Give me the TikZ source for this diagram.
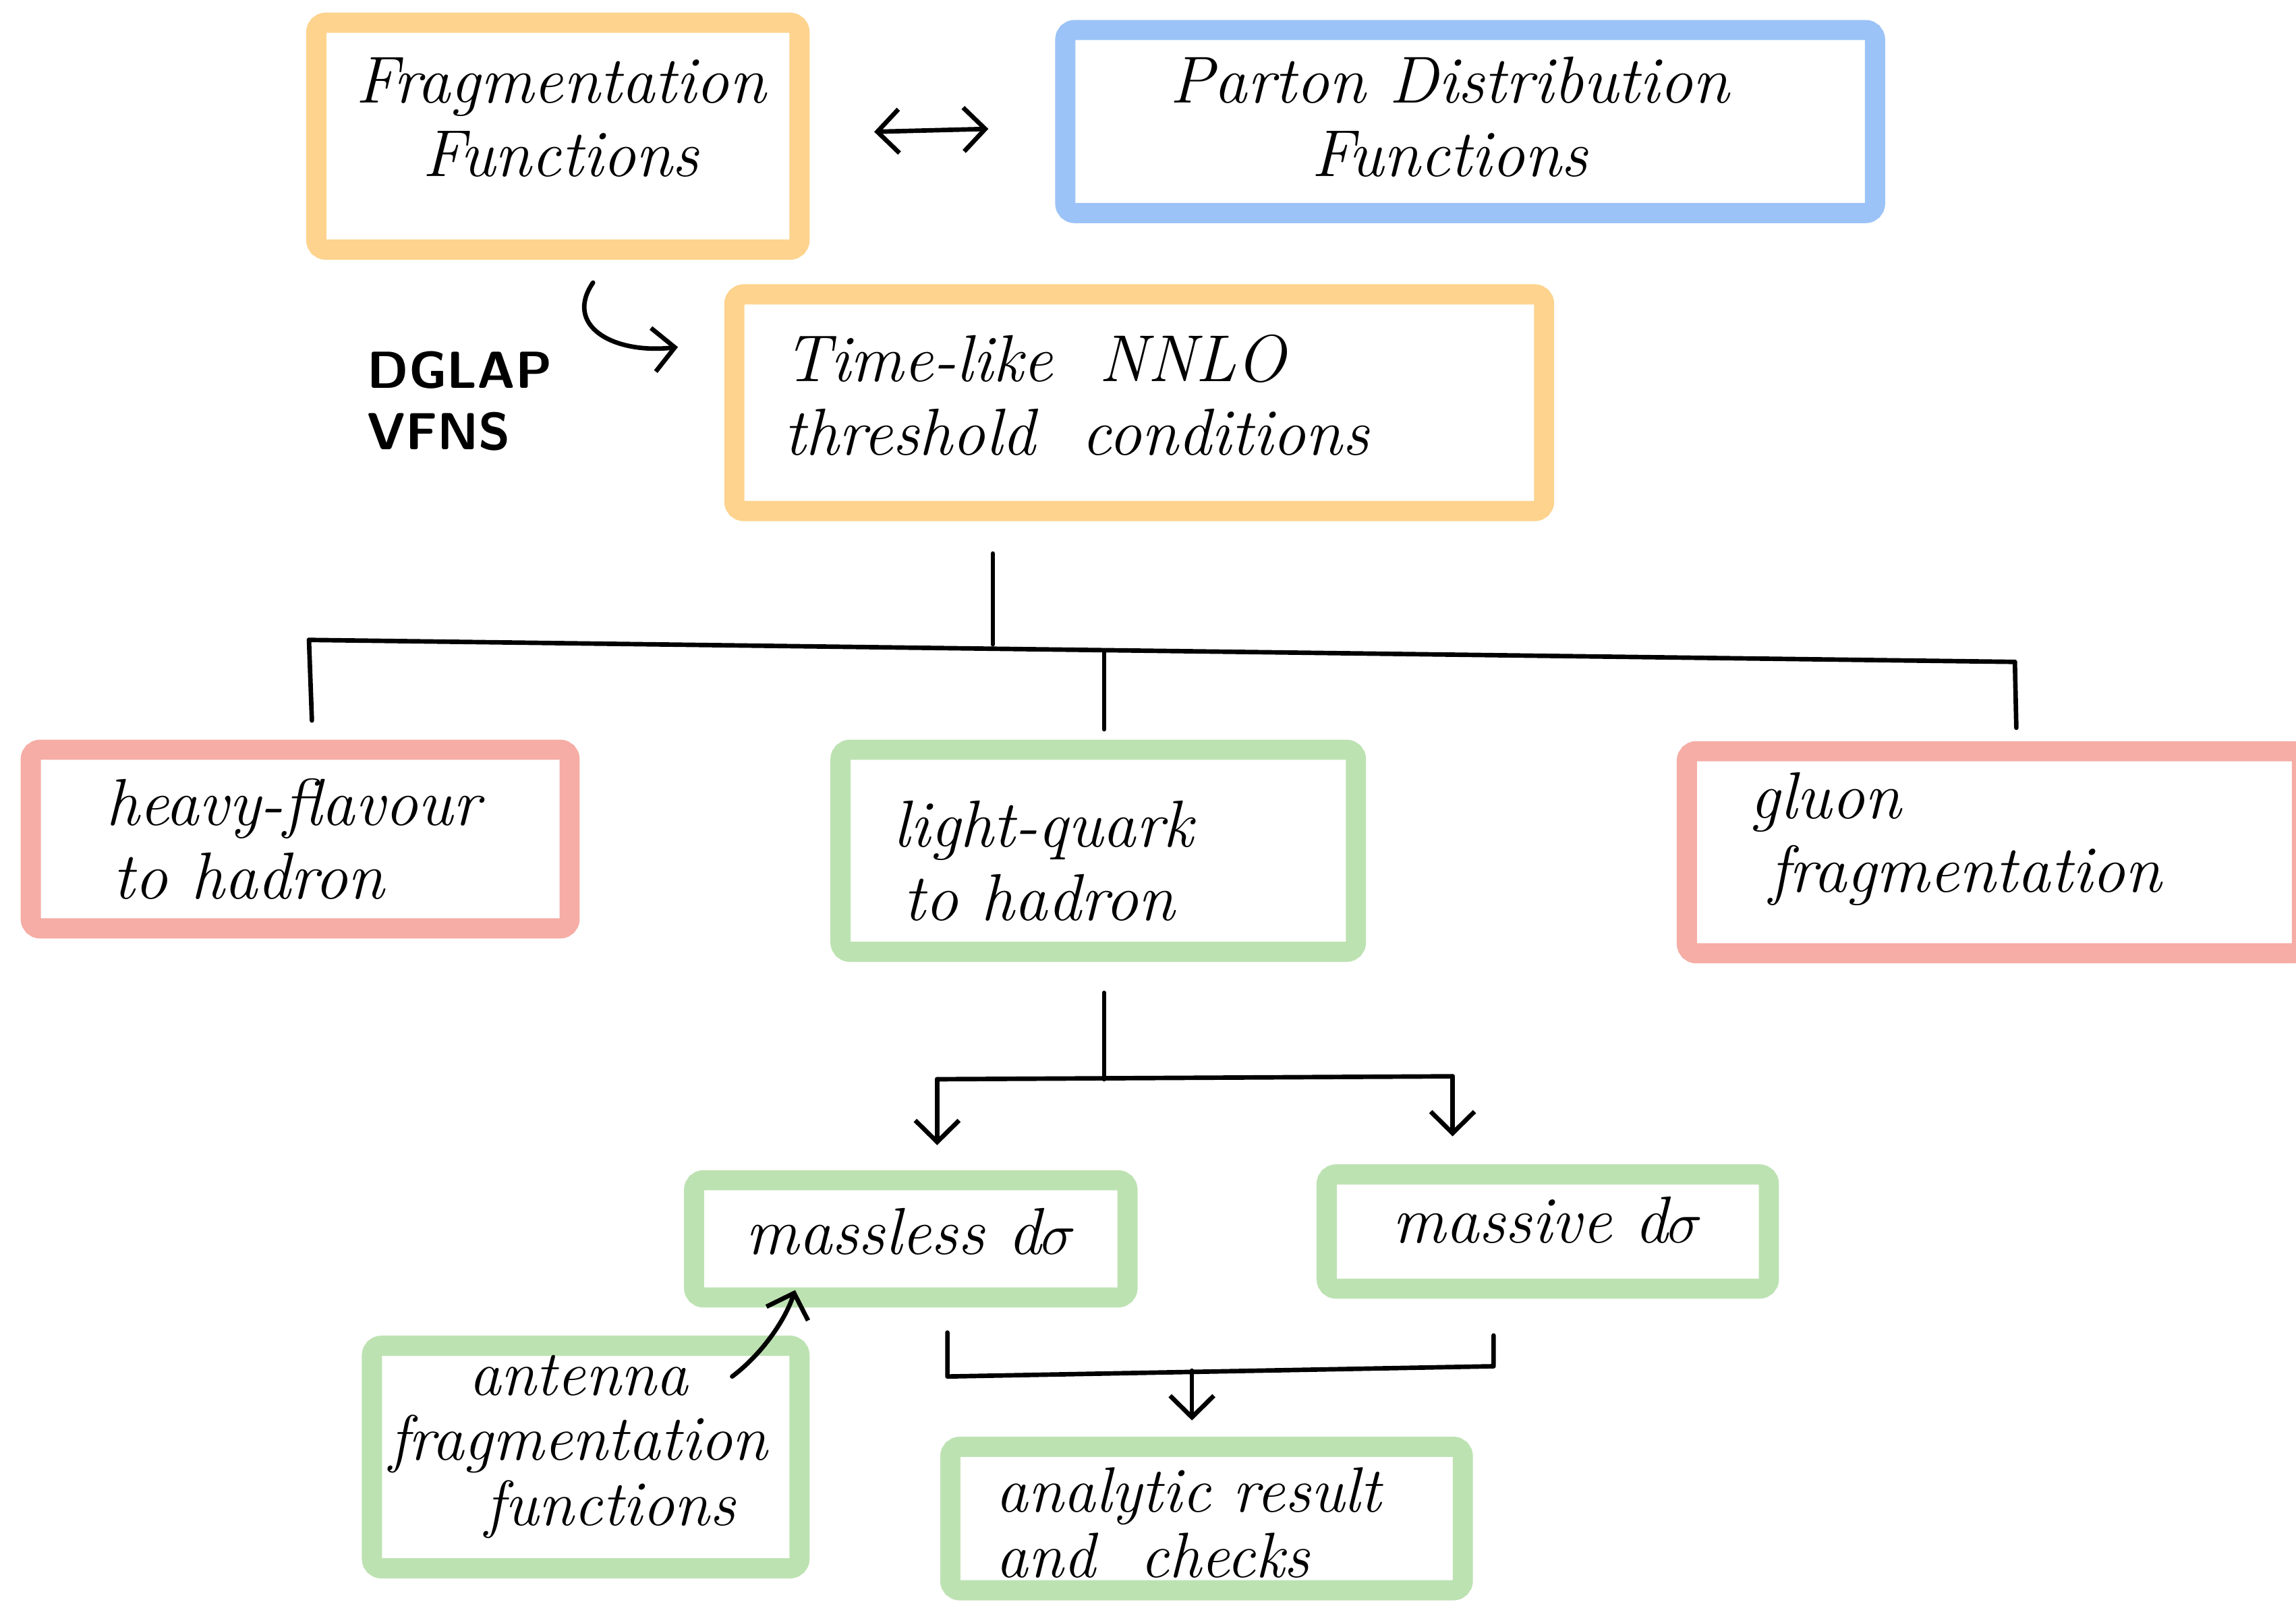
\documentclass[tikz,border=0pt]{standalone}
\usetikzlibrary{arrows.meta,calc}
\definecolor{cOr}{HTML}{FDD38D}
\definecolor{cBl}{HTML}{9BC3F7}
\definecolor{cRd}{HTML}{F5ADA5}
\definecolor{cGr}{HTML}{BDE2B2}
\newcommand\pu{0.021709cm}
\newcommand\handfont{\fontsize{28}{31}\selectfont\itshape}
\begin{document}
\begin{tikzpicture}[x=0.021709cm, y=-0.021709cm,
  box/.style={draw=#1, line width=8.5pt, rounded corners=4pt, inner sep=0pt},
  txt/.style={inner sep=0pt, font=\handfont},
  link/.style={line width=1.9pt, line cap=round, line join=round},
  barb/.tip={Straight Barb[length=3.2mm,width=6.5mm,line width=1.9pt]},
  arr/.style={link, -{barb}}]
\useasboundingbox[fill=white] (0,0) rectangle (1568,1094);

% boxes
\node[box=cOr, minimum width=330*\pu, minimum height=155*\pu] (ff) at (381,93) {};
\node[box=cBl, minimum width=553*\pu, minimum height=125*\pu] (pdf) at (1004,83) {};
\node[box=cOr, minimum width=553*\pu, minimum height=148*\pu] (tln) at (778,275) {};
\node[box=cRd, minimum width=368*\pu, minimum height=122*\pu] (hf) at (205,573) {};
\node[box=cGr, minimum width=352*\pu, minimum height=138*\pu] (lq) at (750,581) {};
\node[box=cRd, minimum width=420*\pu, minimum height=138*\pu] (gf) at (1362,582) {};
\node[box=cGr, minimum width=296*\pu, minimum height=80*\pu] (ml) at (622,846) {};
\node[box=cGr, minimum width=302*\pu, minimum height=78*\pu] (mv) at (1057,841) {};
\node[box=cGr, minimum width=292*\pu, minimum height=152*\pu] (an) at (400,995) {};
\node[box=cGr, minimum width=350*\pu, minimum height=98*\pu] (ar) at (824,1037) {};

% texts
\node[txt, align=center] (ffT) at (383,80) {Fragmentation\\Functions};
\node[txt, align=center] (pdfT) at (990,80) {Parton Distribution\\Functions};
\node[txt, align=left, anchor=west] (tlnT) at (535,270) {Time-like \ NNLO\\threshold \ conditions};
\node[txt, align=left, anchor=west] (hfT) at (72,573) {heavy-flavour\\\hspace{3pt}to hadron};
\node[txt, align=left, anchor=west] (lqT) at (610,588) {light-quark\\\hspace{4pt}to hadron};
\node[txt, align=left, anchor=west] (gfT) at (1195,573) {gluon\\\hspace{8pt}fragmentation};
\node[txt] (mlT) at (622,841) {massless d$\sigma$};
\node[txt] (mvT) at (1057,833) {massive d$\sigma$};
\node[txt, align=center, font=\fontsize{27}{27.5}\selectfont\itshape] (anT) at (395,988) {antenna\\fragmentation\\\hspace{1em}functions};
\node[txt, align=left, anchor=west, font=\fontsize{27}{27.5}\selectfont\itshape] (arT) at (680,1040) {analytic result\\and \ checks};

% DGLAP label
\node[font=\sffamily\bfseries\fontsize{22}{26}\selectfont, align=left, inner sep=0pt] (dg) at (314,274) {DGLAP\\VFNS};

% <-> between top boxes
\coordinate (lr1) at (597,90);
\coordinate (lr2) at (675,88);
\draw[link, {barb}-{barb}] (lr1) -- (lr2);

% curved DGLAP arrow
\coordinate (da1) at (405,193);
\coordinate (da2) at (463,237);
\draw[arr] (da1) .. controls (385,222) and (418,242) .. (da2);

% tree from threshold box
\coordinate (t0) at (678,378);
\coordinate (t1) at (678,440);
\coordinate (hl) at (211,437);
\coordinate (hr) at (1376,452);
\coordinate (hm) at (754,445);
\coordinate (e1) at (213,492);
\coordinate (e2) at (754,498);
\coordinate (e3) at (1377,497);
\draw[link] (t0) -- (t1);
\draw[link] (hl) -- (hr);
\draw[link] (hl) -- (e1);
\draw[link] (hm) -- (e2);
\draw[link] (hr) -- (e3);

% light-quark split
\coordinate (s0) at (754,678);
\coordinate (s1) at (754,737);
\coordinate (sl) at (640,737);
\coordinate (sr) at (992,735);
\coordinate (al) at (640,782);
\coordinate (ar2) at (992,776);
\draw[link] (s0) -- (s1);
\draw[link] (sl) -- (sr);
\draw[arr] (sl) -- (al);
\draw[arr] (sr) -- (ar2);

% bracket under massless / massive
\coordinate (b0) at (647,910);
\coordinate (b1) at (647,940);
\coordinate (b2) at (1020,933);
\coordinate (b3) at (1020,912);
\coordinate (bm) at (814,936);
\coordinate (bt) at (814,970);
\draw[link] (b0) -- (b1) -- (b2) -- (b3);
\draw[arr] (bm) -- (bt);

% antenna -> massless
\coordinate (c0) at (500,940);
\coordinate (c1) at (543,881);
\draw[arr] (c0) .. controls (520,925) and (536,902) .. (c1);
\end{tikzpicture}
\end{document}
